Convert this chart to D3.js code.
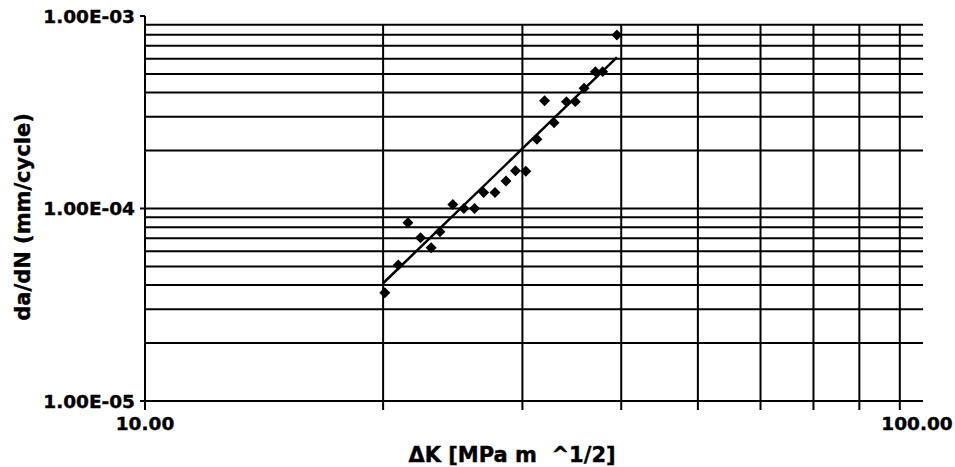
<!DOCTYPE html>
<html>
<head>
<meta charset="utf-8">
<script src="https://cdnjs.cloudflare.com/ajax/libs/d3/7.8.5/d3.min.js"></script>
<style>
	body { margin: 0; background: #fff; }
	svg text { font-family: "DejaVu Sans", sans-serif; font-weight: bold; fill: #000; stroke: #000; stroke-width: 0.4; }
	.grid line { stroke: #000; stroke-width: 2; }
	.axisLine { stroke: #000; stroke-width: 2; }
</style>
</head>
<body>
<div id="chart"></div>
<script>
// measured points, delta K [MPa m^1/2] vs da/dN [mm/cycle]
var deltaK = [20.1, 20.9, 21.5, 22.3, 23.0, 23.6, 24.5, 25.3, 26.1, 26.8, 27.7, 28.6,
              29.4, 30.3, 31.3, 32.0, 32.9, 34.1, 35.0, 35.9, 37.1, 37.9, 39.5];
var dadN   = [3.65e-5, 5.09e-5, 8.44e-5, 7.05e-5, 6.26e-5, 7.58e-5, 1.05e-4, 1.00e-4,
              1.00e-4, 1.21e-4, 1.21e-4, 1.39e-4, 1.57e-4, 1.56e-4, 2.29e-4, 3.63e-4,
              2.79e-4, 3.59e-4, 3.59e-4, 4.21e-4, 5.14e-4, 5.14e-4, 7.97e-4];

// power-law trend line (ends)
var fitK    = [20.0, 39.5];
var fitDadN = [4.09e-5, 6.10e-4];

// labelled ticks
var xTickValues = [10, 100];
var yTickValues = [1e-3, 1e-4, 1e-5];

function CrackChart(config) {
	var me = this;
	me.initConfig(config);
}

CrackChart.prototype.initConfig = function(config) {
	this.width  = 955;
	this.height = 467;
	this.plotLeft   = 145;
	this.plotRight  = 923;
	this.plotTop    = 24;
	this.plotBottom = 401;
	for (var k in config) this[k] = config[k];

	this.parentNode = d3.select('#' + config.parentId);
	this.initVisuals();
}

CrackChart.prototype.initVisuals = function() {
	var me = this;
	me.svg = me.parentNode.append('svg')
		.attr('width', me.width)
		.attr('height', me.height);

	me.xScale = d3.scaleLog()
		.domain([10, 100])
		.range([me.plotLeft, me.plotLeft + 791]);
	me.yScale = d3.scaleLog()
		.domain([1e-5, 1e-3])
		.range([me.plotBottom, me.plotBottom - 385]);

	me.drawGrid();
	me.drawAxes();
	me.drawTrend();
	me.drawPoints();
}

CrackChart.prototype.drawGrid = function() {
	var me = this;
	var g = me.svg.append('g').attr('class', 'grid');

	// minor values of every decade: 1..9 x 10^n
	var yVals = [], xVals = [];
	[-5, -4].forEach(function(p) {
		for (var i = 1; i < 10; i++) yVals.push(i * Math.pow(10, p));
	});
	for (var i = 2; i < 10; i++) xVals.push(i * 10);

	yVals = yVals.filter(function(v) { return me.yScale(v) >= me.plotTop - 1; });
	xVals = xVals.filter(function(v) { return me.xScale(v) <= me.plotRight; });

	g.selectAll('line.h')
		.data(yVals)
		.enter().append('line')
		.attr('class', 'h')
		.attr('x1', me.plotLeft)
		.attr('x2', me.plotRight)
		.attr('y1', function(d) { return me.yScale(d); })
		.attr('y2', function(d) { return me.yScale(d); });

	// vertical lines run down past the axis as tick marks
	g.selectAll('line.v')
		.data(xVals)
		.enter().append('line')
		.attr('class', 'v')
		.attr('x1', function(d) { return me.xScale(d); })
		.attr('x2', function(d) { return me.xScale(d); })
		.attr('y1', me.plotTop)
		.attr('y2', me.plotBottom + 9);
}

CrackChart.prototype.drawAxes = function() {
	var me = this;
	var g = me.svg.append('g').attr('class', 'axes');

	// left axis
	g.append('line')
		.attr('class', 'axisLine')
		.attr('x1', me.plotLeft).attr('x2', me.plotLeft)
		.attr('y1', me.yScale(1e-3)).attr('y2', me.plotBottom + 9);
	g.selectAll('line.ytick')
		.data(yTickValues)
		.enter().append('line')
		.attr('class', 'axisLine')
		.attr('x1', me.plotLeft - 5).attr('x2', me.plotLeft)
		.attr('y1', function(d) { return me.yScale(d); })
		.attr('y2', function(d) { return me.yScale(d); });
	g.selectAll('text.ytick')
		.data(yTickValues)
		.enter().append('text')
		.attr('class', 'ytick')
		.attr('x', me.plotLeft - 10)
		.attr('y', function(d) { return me.yScale(d); })
		.attr('dy', '0.36em')
		.attr('text-anchor', 'end')
		.style('font-size', '18.5px')
		.text(function(d) { return d.toExponential(2).toUpperCase().replace(/E-(\d)$/, 'E-0$1'); });

	// bottom axis
	g.append('line')
		.attr('class', 'axisLine')
		.attr('x1', me.plotLeft).attr('x2', me.plotRight)
		.attr('y1', me.plotBottom).attr('y2', me.plotBottom);
	g.selectAll('text.xtick')
		.data(xTickValues)
		.enter().append('text')
		.attr('class', 'xtick')
		.attr('x', function(d) { return Math.min(me.xScale(d), me.plotRight - 6); })
		.attr('y', me.plotBottom + 29)
		.attr('text-anchor', 'middle')
		.style('font-size', '18.5px')
		.text(function(d) { return d.toFixed(2); });

	// titles
	me.svg.append('text')
		.attr('x', 512)
		.attr('y', 462)
		.attr('text-anchor', 'middle')
		.style('font-size', '21px')
		.style('white-space', 'pre')
		.text('\u0394K [MPa m  ^1/2]');
	me.svg.append('text')
		.attr('transform', 'translate(30,217) rotate(-90)')
		.attr('text-anchor', 'middle')
		.style('font-size', '21px')
		.text('da/dN (mm/cycle)');
}

CrackChart.prototype.drawTrend = function() {
	var me = this;
	var line = d3.line()
		.x(function(d) { return me.xScale(d[0]); })
		.y(function(d) { return me.yScale(d[1]); });

	me.svg.append('path')
		.attr('d', line(d3.zip(fitK, fitDadN)))
		.attr('fill', 'none')
		.attr('stroke', '#000')
		.attr('stroke-width', 2.5);
}

CrackChart.prototype.drawPoints = function() {
	var me = this;
	var diamond = d3.symbol().type(d3.symbolSquare).size(60);

	me.svg.append('g')
		.attr('class', 'points')
		.selectAll('path')
		.data(d3.zip(deltaK, dadN))
		.enter().append('path')
		.attr('d', diamond)
		.attr('fill', '#000')
		.attr('transform', function(d) {
			return 'translate(' + me.xScale(d[0]) + ',' + me.yScale(d[1]) + ') rotate(45)';
		});
}

new CrackChart({ parentId: 'chart' });
</script>
</body>
</html>
